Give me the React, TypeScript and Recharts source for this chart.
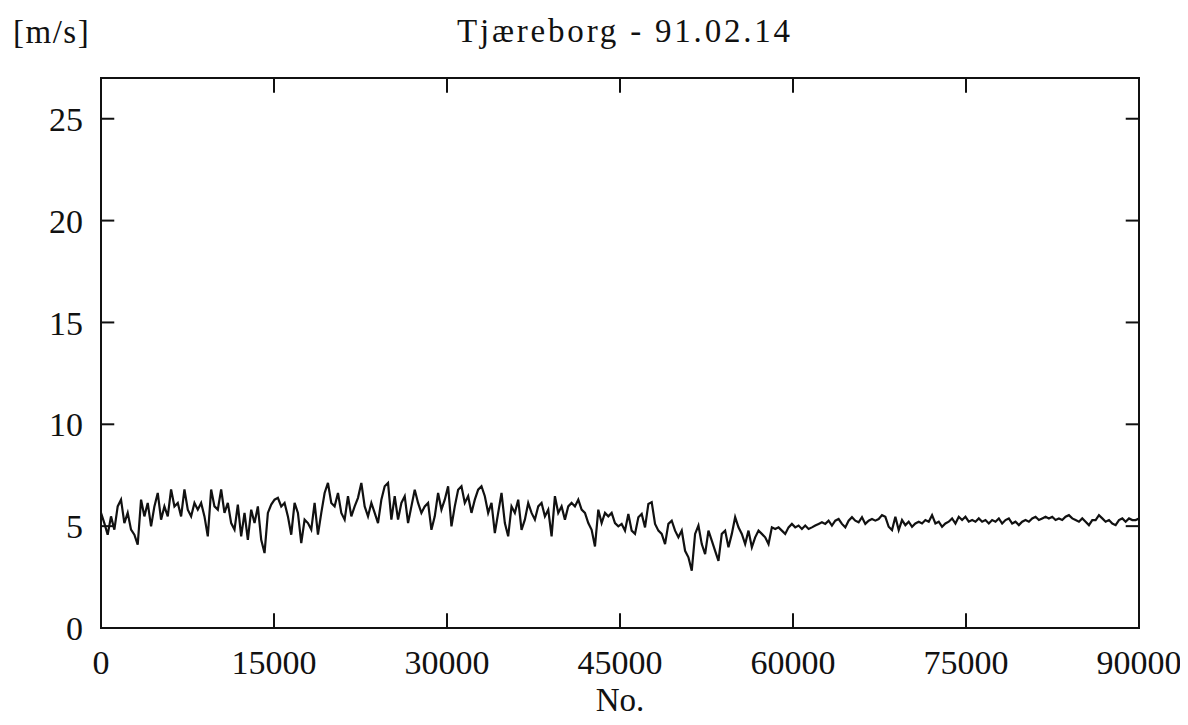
import React from "react";
import { LineChart, Line, XAxis, YAxis, ReferenceLine, ReferenceArea } from "recharts";

// wind speed trace left to right (4 blocks of 78 readings)
const speedA = [
  5.65, 5.15, 4.58, 5.48, 4.83, 5.97, 6.30, 5.15, 5.65, 4.83,
  4.58, 4.09, 6.30, 5.48, 6.14, 4.99, 5.97, 6.63, 5.32, 5.97,
  5.48, 6.80, 5.97, 6.14, 5.48, 6.80, 5.81, 5.48, 6.14, 5.81,
  6.14, 5.48, 4.50, 6.80, 5.97, 5.81, 6.80, 5.65, 6.14, 5.15,
  4.83, 6.06, 4.50, 5.65, 4.33, 5.81, 5.15, 5.97, 4.33, 3.68,
  5.65, 6.06, 6.30, 6.39, 5.97, 6.14, 5.48, 4.58, 6.14, 5.65,
  4.17, 5.32, 5.15, 4.83, 6.14, 4.58, 5.65, 6.63, 7.12, 6.14,
  5.97, 6.63, 5.65, 5.32, 6.47, 5.48, 5.97, 6.39,
];
const speedB = [
  7.12, 5.97, 5.48, 6.14, 5.65, 5.15, 6.30, 6.96, 7.12, 5.32,
  6.47, 5.32, 6.14, 6.47, 5.15, 5.97, 6.79, 6.14, 5.65, 5.97,
  6.14, 4.82, 5.48, 6.63, 5.81, 6.30, 6.96, 4.99, 5.97, 6.79,
  6.96, 6.14, 6.47, 5.65, 6.30, 6.79, 6.96, 6.47, 5.65, 6.14,
  4.66, 5.65, 6.63, 5.15, 4.50, 5.97, 5.65, 6.30, 4.82, 5.32,
  6.14, 5.65, 5.32, 5.97, 6.14, 5.48, 5.81, 4.50, 6.47, 5.65,
  5.97, 5.32, 5.97, 6.14, 5.97, 6.30, 5.81, 5.65, 5.15, 4.82,
  4.00, 5.81, 5.15, 5.65, 5.48, 5.65, 5.15, 4.99,
];
const speedC = [
  5.11, 4.78, 5.60, 4.78, 4.62, 5.44, 5.60, 4.94, 6.09, 6.18,
  5.11, 4.78, 4.62, 4.12, 5.11, 5.27, 4.78, 4.45, 4.78, 3.79,
  3.47, 2.81, 4.62, 5.03, 4.12, 3.63, 4.78, 4.29, 3.79, 3.30,
  4.62, 4.78, 3.96, 4.62, 5.44, 4.94, 4.62, 4.12, 4.78, 3.96,
  4.45, 4.78, 4.62, 4.45, 4.12, 4.94, 4.86, 4.94, 4.78, 4.62,
  4.94, 5.11, 4.94, 5.03, 4.86, 5.03, 4.86, 4.94, 5.03, 5.11,
  5.19, 5.11, 5.27, 5.03, 5.27, 5.35, 5.11, 4.94, 5.27, 5.44,
  5.27, 5.19, 5.44, 5.11, 5.27, 5.35, 5.27, 5.35,
];
const speedD = [
  5.54, 5.46, 4.97, 4.81, 5.46, 4.81, 5.30, 5.05, 5.22, 4.97,
  5.13, 5.22, 5.13, 5.30, 5.22, 5.54, 5.13, 5.22, 4.97, 5.13,
  5.22, 5.38, 5.13, 5.46, 5.30, 5.46, 5.22, 5.30, 5.22, 5.38,
  5.22, 5.30, 5.13, 5.30, 5.22, 5.38, 5.13, 5.30, 5.38, 5.13,
  5.22, 5.05, 5.22, 5.30, 5.22, 5.38, 5.46, 5.30, 5.38, 5.46,
  5.38, 5.46, 5.30, 5.38, 5.30, 5.46, 5.54, 5.38, 5.30, 5.22,
  5.38, 5.22, 5.05, 5.30, 5.30, 5.54, 5.38, 5.22, 5.30, 5.13,
  5.05, 5.30, 5.38, 5.22, 5.38, 5.30, 5.30, 5.38,
];

const xTicks = [0, 15000, 30000, 45000, 60000, 75000, 90000];
const yTicks = [0, 5, 10, 15, 20, 25];

const speed = [...speedA, ...speedB, ...speedC, ...speedD];
const STEP = 90000 / (speed.length - 1);
const data = speed.map((v, i) => ({ n: Math.round(i * STEP), v }));

const FONT = "'Liberation Serif', 'Times New Roman', serif";
const INK = "#111";

export default function App() {
  return (
    <div style={{ position: "relative", width: 1172, height: 717, fontFamily: FONT, color: INK }}>
      <div style={{ position: "absolute", left: 5, top: 8, fontSize: 33, lineHeight: "33px", letterSpacing: 1.5 }}>
        [m/s]
      </div>
      <div
        style={{
          position: "absolute",
          left: 93,
          width: 1048,
          top: 7,
          textAlign: "center",
          fontSize: 33,
          lineHeight: "33px",
          letterSpacing: 2.8,
        }}
      >
        Tjæreborg - 91.02.14
      </div>
      <div
        style={{
          position: "absolute",
          left: 93,
          width: 1038,
          top: 676,
          textAlign: "center",
          fontSize: 33,
          lineHeight: "33px",
        }}
      >
        No.
      </div>
      <LineChart width={1172} height={709} data={data} margin={{ top: 70, right: 41, bottom: 0, left: 13 }}>
        <XAxis
          dataKey="n"
          type="number"
          domain={[0, 90000]}
          ticks={xTicks}
          interval={0}
          tickLine={false}
          tickSize={0}
          tickMargin={22}
          axisLine={false}
          height={89}
          tick={{ fill: INK, fontSize: 34, fontFamily: FONT }}
        />
        <YAxis
          type="number"
          domain={[0, 27]}
          ticks={yTicks}
          interval={0}
          tickLine={false}
          tickSize={0}
          tickMargin={18}
          axisLine={false}
          width={80}
          tick={{ fill: INK, fontSize: 34, fontFamily: FONT }}
        />
        <ReferenceArea x1={0} x2={90000} y1={0} y2={27} fill="none" stroke={INK} strokeWidth={2} />
        {xTicks.slice(1, -1).map((t) => (
          <ReferenceLine key={"b" + t} segment={[{ x: t, y: 0 }, { x: t, y: 0.72 }]} stroke={INK} strokeWidth={2} />
        ))}
        {xTicks.slice(1, -1).map((t) => (
          <ReferenceLine key={"t" + t} segment={[{ x: t, y: 27 }, { x: t, y: 26.28 }]} stroke={INK} strokeWidth={2} />
        ))}
        {yTicks.slice(1).map((t) => (
          <ReferenceLine key={"l" + t} segment={[{ x: 0, y: t }, { x: 1150, y: t }]} stroke={INK} strokeWidth={2} />
        ))}
        {yTicks.slice(1).map((t) => (
          <ReferenceLine key={"r" + t} segment={[{ x: 90000, y: t }, { x: 88850, y: t }]} stroke={INK} strokeWidth={2} />
        ))}
        <Line
          type="linear"
          dataKey="v"
          stroke={INK}
          strokeWidth={2.2}
          dot={false}
          isAnimationActive={false}
        />
      </LineChart>
    </div>
  );
}
